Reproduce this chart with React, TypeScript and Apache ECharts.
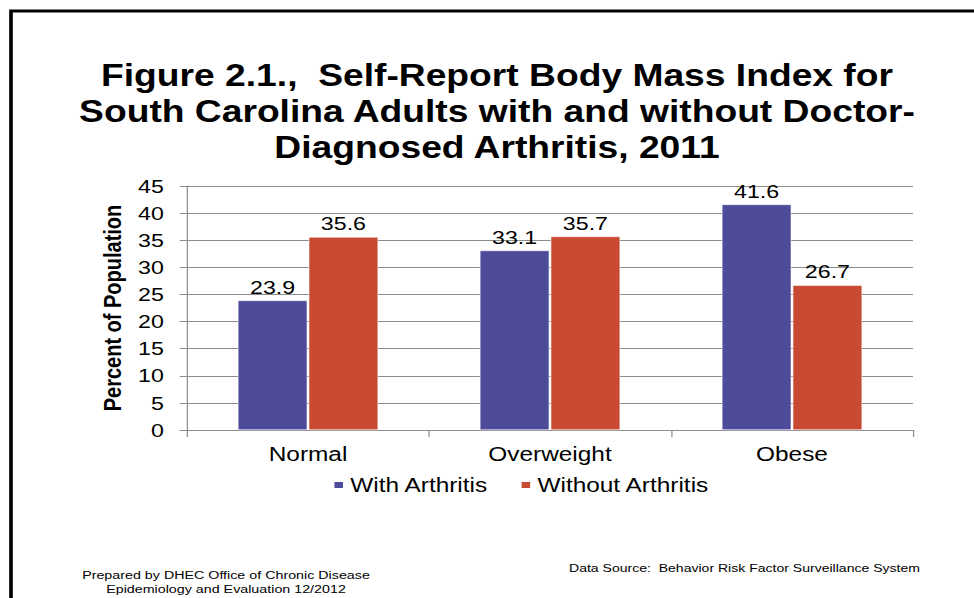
import React, { useEffect, useRef } from "react";
import * as echarts from "echarts";

const categories = ["Normal", "Overweight", "Obese"];
const withArthritis = [23.9, 33.1, 41.6];
const withoutArthritis = [35.6, 35.7, 26.7];
const seriesNames = ["With Arthritis", "Without Arthritis"];
const titleLines = [
  "Figure 2.1.,  Self-Report Body Mass Index for",
  "South Carolina Adults with and without Doctor-",
  "Diagnosed Arthritis, 2011",
];
const yAxisName = "Percent of Population";
const footLeft = ["Prepared by DHEC Office of Chronic Disease", "Epidemiology and Evaluation 12/2012"];
const footRight = "Data Source:  Behavior Risk Factor Surveillance System";

const BLUE = "#4F4B9B";
const RED = "#C84A32";

// The original figure is stretched horizontally; draw at a narrower width and stretch.
const W = 798;
const SX = 974 / W;
const X = (px: number) => px / SX;

export default function App() {
  const ref = useRef<HTMLDivElement>(null);
  useEffect(() => {
    const chart = echarts.init(ref.current!, null, { renderer: "svg" });
    const FONT = "Arial, Liberation Sans, sans-serif";
    const labelStyle = {
      show: true,
      position: "top",
      distance: 4,
      fontSize: 19,
      fontFamily: FONT,
      color: "#000",
      formatter: (p: any) => p.value.toFixed(1),
    };
    chart.setOption({
      animation: false,
      backgroundColor: "#fff",
      textStyle: { fontFamily: FONT },
      grid: { left: X(187), right: X(61), top: 186, bottom: 168, containLabel: false },
      legend: {
        data: seriesNames,
        left: X(332),
        top: 475,
        padding: 0,
        itemWidth: 9,
        itemHeight: 8,
        itemGap: 25,
        icon: "rect",
        textStyle: { fontSize: 20, color: "#000", fontFamily: FONT },
      },
      xAxis: {
        type: "category",
        data: categories,
        axisLine: { lineStyle: { color: "#8c8c8c", width: 1 } },
        axisTick: { show: true, length: 7, lineStyle: { color: "#8c8c8c" } },
        axisLabel: { fontSize: 20, color: "#000", margin: 14 },
      },
      yAxis: {
        type: "value",
        min: 0,
        max: 45,
        interval: 5,
        name: yAxisName,
        nameLocation: "middle",
        nameGap: 38,
        nameTextStyle: { fontSize: 20, fontWeight: "bold", color: "#000" },
        axisLine: { show: true, lineStyle: { color: "#8c8c8c" } },
        axisTick: { show: true, length: 6, lineStyle: { color: "#8c8c8c" } },
        axisLabel: { fontSize: 19, color: "#000", margin: 19 },
        splitLine: { lineStyle: { color: "#8c8c8c", width: 1 } },
      },
      series: [
        {
          name: seriesNames[0],
          type: "bar",
          data: withArthritis,
          barGap: "2%",
          barCategoryGap: "42%",
          itemStyle: { color: BLUE, borderColor: "#fff", borderWidth: 0.5 },
          label: labelStyle,
        },
        {
          name: seriesNames[1],
          type: "bar",
          data: withoutArthritis,
          itemStyle: { color: RED, borderColor: "#fff", borderWidth: 0.5 },
          label: labelStyle,
        },
      ],
      graphic: [
        {
          type: "rect",
          shape: { x: X(11), y: 11, width: 1000, height: 700 },
          style: { fill: "none", stroke: "#000", lineWidth: 3 },
          silent: true,
        },
        {
          type: "text",
          x: X(497),
          y: 57,
          style: {
            text: titleLines.join("\n"),
            textAlign: "center",
            fontSize: 30.5,
            lineHeight: 36,
            fontWeight: "bold",
            fontFamily: FONT,
            fill: "#000",
          },
        },
        {
          type: "text",
          x: X(226),
          y: 568,
          style: {
            text: footLeft.join("\n"),
            textAlign: "center",
            fontSize: 11.7,
            lineHeight: 14,
            fontFamily: "Liberation Sans Narrow, Arial Narrow, Arial, sans-serif",
            fill: "#000",
          },
        },
        {
          type: "text",
          x: X(569),
          y: 562,
          style: {
            text: footRight,
            textAlign: "left",
            fontSize: 11.5,
            fontFamily: "Liberation Sans Narrow, Arial Narrow, Arial, sans-serif",
            fill: "#000",
          },
        },
      ],
    });
    return () => chart.dispose();
  }, []);
  return (
    <div
      style={{ position: "fixed", left: 0, top: 0, width: 974, height: 598, overflow: "hidden", background: "#fff" }}
    >
      <div
        ref={ref}
        style={{
          width: W,
          height: 598,
          transform: `scaleX(${SX})`,
          transformOrigin: "0 0",
        }}
      />
    </div>
  );
}
